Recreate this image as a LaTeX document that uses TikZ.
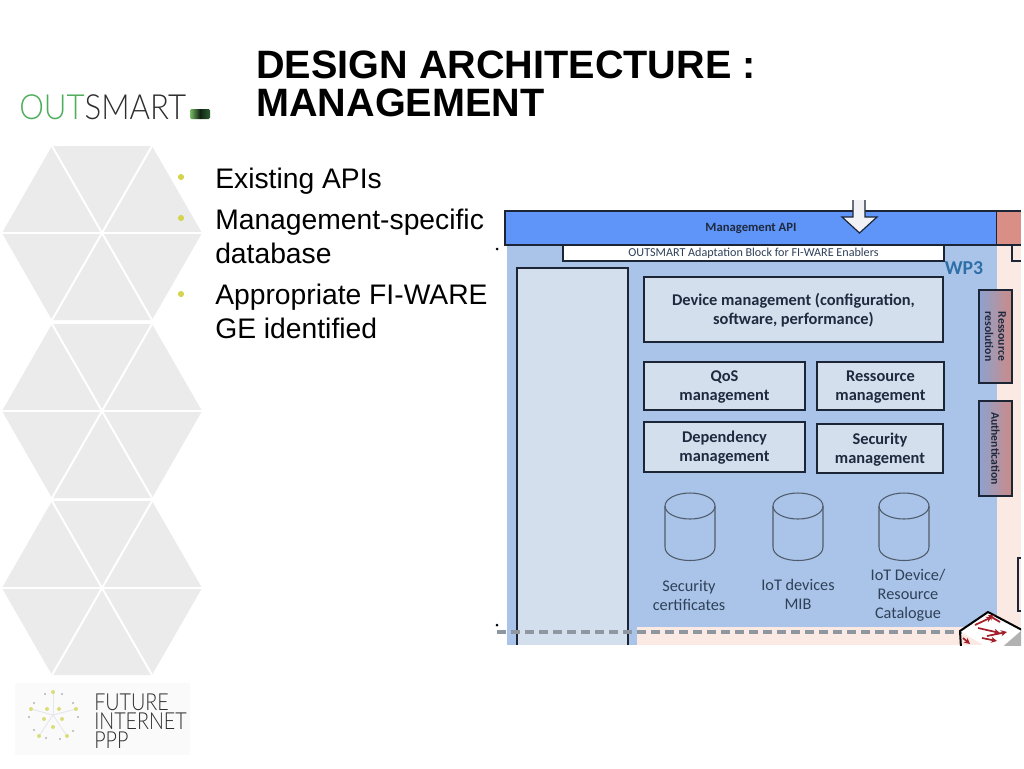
\documentclass[tikz,border=0pt]{standalone}
\usepackage{fontspec}
\setmainfont{Liberation Sans}
\newfontfamily\diag{Carlito}
\newfontfamily\logofont[UprightFont={* Light}]{Lato}
\usetikzlibrary{arrows.meta}
\definecolor{hexgrey}{HTML}{EBEBEB}
\definecolor{panelblue}{HTML}{A9C4E8}
\definecolor{boxblue}{HTML}{D3DFED}
\definecolor{barblue}{HTML}{5F94F8}
\definecolor{barpink}{HTML}{D98F86}
\definecolor{palepink}{HTML}{FBE9E4}
\definecolor{inkdark}{HTML}{1E2A3E}
\definecolor{inksoft}{HTML}{2F4058}
\definecolor{edge}{HTML}{1B2536}
\definecolor{bulletc}{HTML}{D4D44E}
\definecolor{wpblue}{HTML}{2F6FA8}
\definecolor{logogreen}{HTML}{4FAE5C}
\definecolor{logodark}{HTML}{2E2E2E}
\definecolor{dashgrey}{HTML}{8E979F}
\definecolor{HexA}{HTML}{8CA2D0}
\definecolor{HexB}{HTML}{CC8A86}
\definecolor{HexC}{HTML}{4F5B6B}
\definecolor{HexD}{HTML}{E6E6EE}
\definecolor{HexE}{HTML}{DADD7A}
\definecolor{HexF}{HTML}{B5B5B5}
\definecolor{HexG}{HTML}{A3202A}
\tikzset{
  x=0.75pt,y=-0.75pt,
  titletext/.style={font=\fontsize{29.7pt}{33pt}\selectfont\bfseries,anchor=base west,inner sep=0},
  bullettext/.style={font=\fontsize{21.2pt}{24pt}\selectfont,anchor=base west,inner sep=0},
  bulletdot/.style={circle,fill=bulletc,inner sep=0,minimum size=4.6pt},
  hexline/.style={white,line width=1.5pt},
  mgmtbox/.style={draw=edge,fill=boxblue,line width=1pt},
  boxlabel/.style={font=\diag\bfseries\fontsize{12.3pt}{14.2pt}\selectfont,text=inkdark,align=center,inner sep=0,yshift=-0.75pt},
  dblabel/.style={font=\diag\fontsize{12.2pt}{14.2pt}\selectfont,text=inksoft,align=center,inner sep=0},
  sidebox/.style={draw=edge,line width=0.9pt,left color=HexA,right color=HexB},
  sidelabel/.style={font=\diag\bfseries\fontsize{8.8pt}{9.8pt}\selectfont,text=inkdark,align=center,inner sep=0,rotate=-90},
  cyl/.style={draw=HexC,line width=0.8pt},
  spoke/.style={draw=HexD,line width=0.7pt},
  sparkY/.style={circle,fill=HexE,inner sep=0,minimum size=3pt},
  sparkG/.style={circle,fill=HexF,inner sep=0,minimum size=1.8pt},
  routerarrow/.style={-{Stealth[length=4.5pt,width=4.5pt]},draw=HexG,line width=1.3pt},
  fitext/.style={font=\logofont\fontsize{17.6pt}{15pt}\selectfont,text=logodark,anchor=base west,inner sep=0},
}
\begin{document}
\begin{tikzpicture}
\useasboundingbox (0,0) rectangle (1024,768);
\fill[white] (0,0) rectangle (1024,768);

% hexagons
\foreach \cy in {233,411,588}{
  \fill[hexgrey] (2,\cy) -- (52,\cy-87) -- (152,\cy-87) -- (202,\cy) -- (152,\cy+87) -- (52,\cy+87) -- cycle;
  \draw[hexline] (2,\cy) -- (202,\cy);
  \draw[hexline] (52,\cy-87) -- (152,\cy+87);
  \draw[hexline] (152,\cy-87) -- (52,\cy+87);
}

% title
\node[titletext] (title1) at (256,78) {DESIGN ARCHITECTURE :};
\node[titletext] (title2) at (256,116) {MANAGEMENT};

% outsmart logo
\node[font=\logofont\fontsize{26pt}{26pt}\selectfont,anchor=base west,inner sep=0] (logo) at (19,119)
  {\scalebox{0.9}[1]{\textcolor{logogreen}{OUT}\textcolor{logodark}{SMART}}};
\shade[rounded corners=1pt,left color=HexE!30!logogreen,right color=black!45!logogreen,middle color=black!80!logogreen] (190,109) rectangle (210,119);

% bullets
\node[bulletdot] (b1) at (181,177) {};
\node[bulletdot] (b2) at (181,218) {};
\node[bulletdot] (b3) at (181,294) {};
\node[bullettext] (t1) at (215,188) {Existing APIs};
\node[bullettext] (t2) at (215,229) {Management-specific};
\node[bullettext] (t2b) at (215,263) {database};
\node[bullettext] (t3) at (215,304) {Appropriate FI-WARE};
\node[bullettext] (t3b) at (215,338) {GE identified};

% diagram backgrounds
\fill[palepink] (997,245) rectangle (1021,645);
\fill[panelblue] (507,245) rectangle (997,645);
\fill[palepink] (637,627) rectangle (997,645);

% top bars
\draw[draw=edge,fill=barblue,line width=1pt] (505,211) rectangle (997,245) node[midway,font=\diag\bfseries\fontsize{9.5pt}{11pt}\selectfont,text=inkdark] (api) {Management API};
\fill[barpink] (997,211) rectangle (1021,245);
\draw[edge,line width=1pt] (997,211) -- (1021,211) (997,245) -- (1021,245);
\draw[draw=edge,fill=white,line width=1pt] (563,245) rectangle (944,261) node[midway,font=\diag\fontsize{9.1pt}{11pt}\selectfont,text=inksoft] (adapt) {OUTSMART Adaptation Block for FI-WARE Enablers};
\draw[edge,line width=1pt] (1012,245) |- (1021,261);
\draw[edge,line width=0.8pt] (1021,558) -- (1018,558) -- (1018,611) -- (1021,611);

% incoming arrow
\draw[draw=edge,fill=HexD!50!white,line width=0.9pt,line join=miter] (853,200) -- (853,217) -- (842,217) -- (859.5,233) -- (877,217) -- (865,217) -- (865,200);

\node[font=\diag\bfseries\fontsize{14.8pt}{16pt}\selectfont,text=wpblue,inner sep=0] (wp3) at (964,268) {WP3};

% left tall box
\draw[draw=edge,fill=boxblue,line width=1pt] (628,645) -- (628,268) -- (517,268) -- (517,645);

% boxes
\draw[mgmtbox] (644,277) rectangle (943,342) node[midway,boxlabel] (dev) {Device management (configuration,\\software, performance)};
\draw[mgmtbox] (644,362) rectangle (805,410) node[midway,boxlabel] (qos) {QoS\\management};
\draw[mgmtbox] (817,362) rectangle (944,410) node[midway,boxlabel] (res) {Ressource\\management};
\draw[mgmtbox] (644,422) rectangle (805,472) node[midway,boxlabel] (dep) {Dependency\\management};
\draw[mgmtbox] (817,424) rectangle (943,473) node[midway,boxlabel] (sec) {Security\\management};

% side boxes
\draw[sidebox] (979,290) rectangle (1012,383) node[midway,sidelabel] (rr) {Ressource\\resolution};
\draw[sidebox] (979,401) rectangle (1012,496) node[midway,sidelabel] (auth) {Authentication};

% cylinders
\foreach \cx in {690,798,904}{
  \draw[cyl] (\cx-25,506) -- (\cx-25,547) .. controls (\cx-25,565) and (\cx+25,565) .. (\cx+25,547) -- (\cx+25,506);
  \draw[cyl] (\cx,506) ellipse [x radius=25,y radius=13];
}
\node[dblabel] (l1) at (689,595) {Security\\certificates};
\node[dblabel] (l2) at (798,594) {IoT devices\\MIB};
\node[dblabel] (l3) at (908,595) {IoT Device/\\Resource\\Catalogue};

% dashed line
\coordinate (dashA) at (497,632);
\coordinate (dashB) at (962,632);
\draw[dashgrey,line width=2.6pt,dash pattern=on 6.4pt off 4.1pt] (dashA) -- (dashB);
\fill[black] (497,249) circle [radius=1.5];
\fill[black] (497,625) circle [radius=1.5];

% router
\begin{scope}
\clip (950,600) rectangle (1021,645);
\fill[white] (960,631) -- (988,612) -- (1022,630) -- (995,652) -- cycle;
\fill[black!30] (997,652) -- (1022,630) -- (1022,652) -- cycle;
\draw[black,line width=1.5pt,line join=round] (961,648) -- (960,631) -- (988,612) -- (1022,630);
\draw[routerarrow] (975,625) -- (992,617);
\draw[routerarrow] (1000,622) -- (988,615);
\draw[routerarrow] (978,628) -- (1000,633);
\draw[routerarrow] (987,636) -- (1007,632);
\draw[routerarrow] (982,638) -- (997,641);
\draw[routerarrow] (963,638) -- (970,644);
\end{scope}

% future internet logo
\fill[black!2] (15,683) rectangle (190,755);
\coordinate (burst) at (53,715);
\foreach \px/\py in {53/692,31/709,76/709,39/736,67/736}{
  \draw[spoke] (burst) -- (\px,\py);
}
\foreach \px/\py in {53/692,31/709,47/709,59/709,76/709,44/719,62/719,53/727,39/736,67/736}{
  \node[sparkY] at (\px,\py) {};
}
\foreach \px/\py in {45/694,62/694,34/703,73/703,29/717,78/717,34/730,73/731,46/738,60/739}{
  \node[sparkG] at (\px,\py) {};
}
\node[fitext] (fi1) at (94,710) {\scalebox{0.84}[1]{FUTURE}};
\node[fitext] (fi2) at (94,729) {\scalebox{0.84}[1]{INTERNET}};
\node[fitext] (fi3) at (94,748) {\scalebox{0.84}[1]{PPP}};
\end{tikzpicture}
\end{document}
